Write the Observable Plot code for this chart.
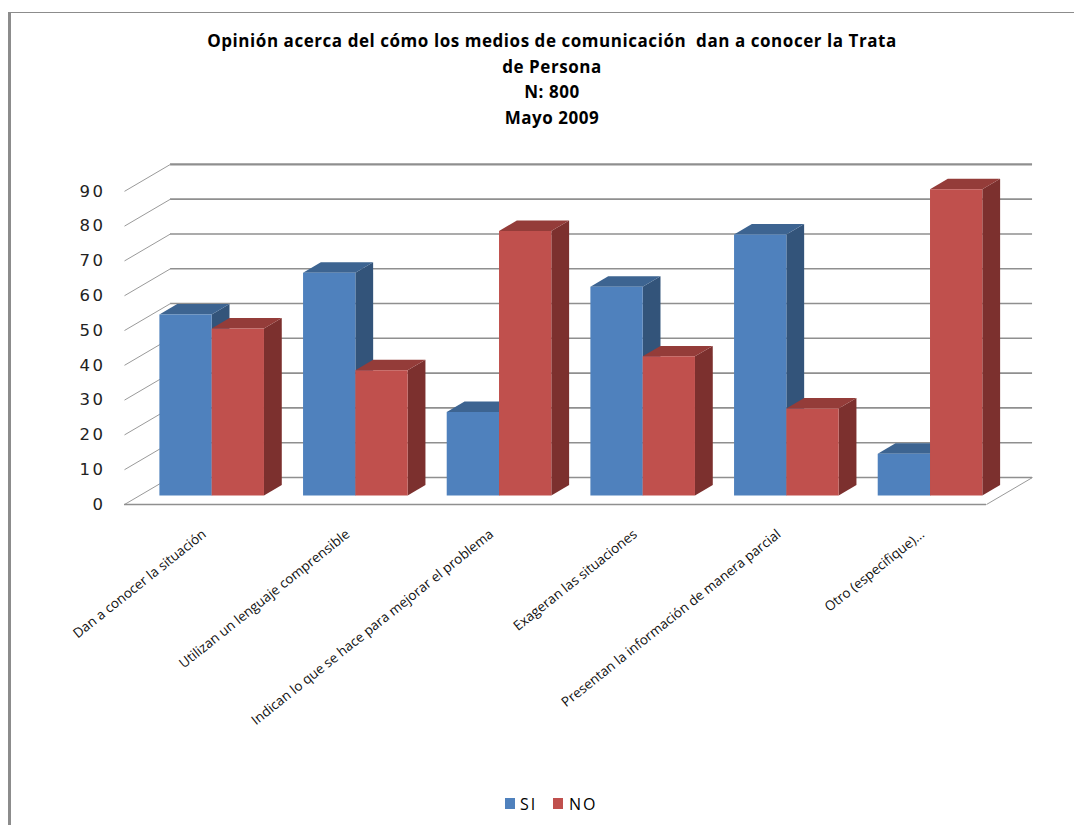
<!DOCTYPE html>
<html lang="es">
<head>
<meta charset="utf-8">
<script src="https://cdn.jsdelivr.net/npm/d3@7"></script>
<script src="https://cdn.jsdelivr.net/npm/@observablehq/plot@0.6"></script>
<style>
  html, body { margin: 0; padding: 0; background: #fff; overflow: hidden; }
  #frame { position: absolute; left: 8px; top: 12px; width: 1066px; height: 813px;
           border-top: 1px solid #8c8c8c; border-left: 3px solid #8c8c8c; box-sizing: border-box; }
  #page { position: absolute; left: 0; top: 0; width: 1074px; height: 825px; }
  #title { position: absolute; left: 30px; right: 0; top: 28px; text-align: center;
           font: 700 17px/25.6px "Open Sans", sans-serif; letter-spacing: 0.55px; color: #000; }
  #chart { position: absolute; left: 0; top: 140px; }
  #chart g[aria-label="y-axis tick label"] text { letter-spacing: 2.5px; }
  #legend { position: absolute; left: 0; top: 793px; width: 1074px; height: 22px;
            font: 16px/22px "Open Sans", sans-serif; color: #000; letter-spacing: 2px; }
  #legend span { position: absolute; top: 0; }
  #legend i { position: absolute; top: 5px; width: 10px; height: 11px; }
</style>
</head>
<body>
<div id="page">
  <div id="frame"></div>
  <div id="title"></div>
  <div id="chart"></div>
  <div id="legend"></div>
</div>
<script>
const titleLines = [
  "Opinión acerca del cómo los medios de comunicación\u00a0 dan a conocer la Trata",
  "de Persona",
  "N: 800",
  "Mayo 2009"
];
const categories = [
  "Dan a conocer la situación",
  "Utilizan un lenguaje comprensible",
  "Indican lo que se hace para mejorar el problema",
  "Exageran las situaciones",
  "Presentan la información de manera parcial",
  "Otro (especifique)..."
];
const si = [52, 64, 24, 60, 75, 12];
const no = [48, 36, 76, 40, 25, 88];
const seriesNames = ["SI", "NO"];
const yTicks = d3.range(0, 100, 10);

// Oblique projection of the chart's depth axis, in scale units
const depthX = 0.3205;
const depthY = 7.76;
const barDepthStart = 1 / 3;
const barDepthEnd = 0.72;
const halfGroup = 0.364;
const palette = {
  SI: {front: "#4f81bd", top: "#3d6491", side: "#33547a"},
  NO: {front: "#c0504d", top: "#943c39", side: "#7c302e"}
};

const px = (x, depth) => x + depth * depthX;
const py = (v, depth) => v + depth * depthY;

const faces = [];
function addFace(id, color, corners) {
  for (const [x, v, depth] of corners) {
    faces.push({id, color, x: px(x, depth), y: py(v, depth)});
  }
}
categories.forEach((cat, i) => {
  [si[i], no[i]].forEach((v, s) => {
    const name = seriesNames[s];
    const x1 = i + 0.5 - halfGroup + s * halfGroup;
    const x2 = x1 + halfGroup;
    const a = barDepthStart, b = barDepthEnd, c = palette[name];
    addFace(`${i}-${s}-side`, c.side, [[x2, 0, a], [x2, v, a], [x2, v, b], [x2, 0, b]]);
    addFace(`${i}-${s}-top`, c.top, [[x1, v, a], [x2, v, a], [x2, v, b], [x1, v, b]]);
    addFace(`${i}-${s}-front`, c.front, [[x1, 0, a], [x2, 0, a], [x2, v, a], [x1, v, a]]);
  });
});

const gridColor = "#8f8f8f";
const chart = Plot.plot({
  width: 1074,
  height: 640,
  marginLeft: 124,
  marginRight: 88,
  marginTop: 23,
  marginBottom: 276,
  style: {background: "transparent", overflow: "visible"},
  x: {domain: [0, categories.length], axis: null},
  y: {domain: [0, 98]},
  color: {type: "identity"},
  marks: [
    // back wall gridlines
    Plot.ruleY(yTicks, {y: d => py(d, 1), x1: px(0, 1), x2: px(categories.length, 1),
      stroke: gridColor, strokeWidth: d => d === 90 ? 2.2 : 1.6}),
    // side wall diagonals
    Plot.link(yTicks, {x1: px(0, 0), y1: d => d, x2: px(0, 1), y2: d => py(d, 1),
      stroke: "#9a9a9a", strokeWidth: 1}),
    // floor edges
    Plot.ruleY([0], {x1: px(0, 0), x2: px(categories.length, 0), stroke: gridColor, strokeWidth: 1.6}),
    Plot.link([0], {x1: px(categories.length, 0), y1: 0, x2: px(categories.length, 1), y2: py(0, 1),
      stroke: "#9a9a9a", strokeWidth: 1}),
    // the bars' faces, back to front
    Plot.line(faces, {x: "x", y: "y", z: "id", fill: "color", stroke: null, curve: "linear"}),
    Plot.axisY(yTicks, {
      anchor: "left", label: null, tickSize: 0, tickPadding: 19,
      fontSize: 16.5, fontFamily: "DejaVu Sans", fill: "#222"
    }),
    Plot.text(categories, {
      x: (d, i) => i + 0.5, y: 0, text: d => d,
      textAnchor: "end", lineAnchor: "middle", rotate: -38.5,
      dx: 8, dy: 28, fontSize: 13.5, fontFamily: "Open Sans", fill: "#111"
    })
  ]
});
document.getElementById("chart").append(chart);

document.getElementById("title").innerHTML = titleLines.join("<br>");

const legendPositions = [[505, 520], [553, 569]];
const legend = document.getElementById("legend");
seriesNames.forEach((name, k) => {
  const swatch = document.createElement("i");
  swatch.style.left = legendPositions[k][0] + "px";
  swatch.style.background = palette[name].front;
  const label = document.createElement("span");
  label.style.left = legendPositions[k][1] + "px";
  label.textContent = name;
  legend.append(swatch, label);
});
</script>
</body>
</html>
